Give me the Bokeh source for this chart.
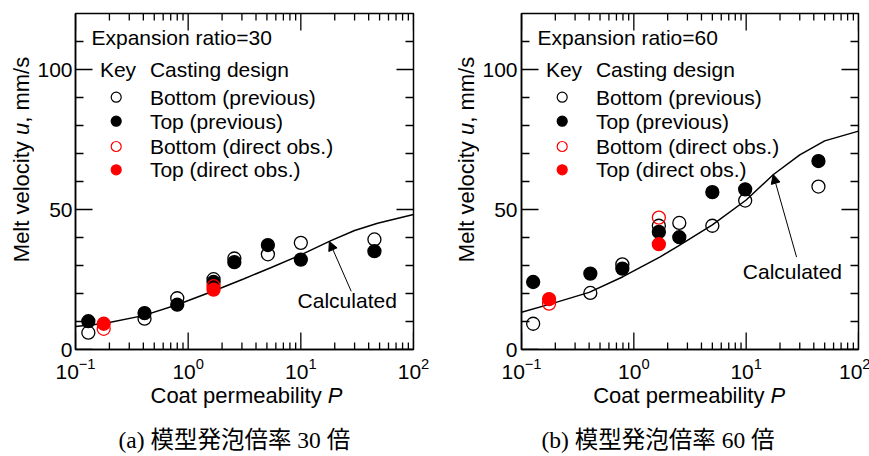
import numpy as np
from bokeh.plotting import figure
from bokeh.models import Range1d, FixedTicker, Label, Arrow, NormalHead
from bokeh.layouts import row, column
from bokeh.embed import file_html
from bokeh.resources import INLINE

# ---------------- data ----------------
x_ticks = [0.1, 1, 10, 100]
x_minor = [m * d for d in (0.1, 1, 10) for m in range(2, 10)]
y_ticks = [0, 50, 100]
y_minor = [10, 20, 30, 40, 60, 70, 80, 90, 110]

legend_labels = ["Bottom (previous)", "Top (previous)", "Bottom (direct obs.)", "Top (direct obs.)"]

# (a) expansion ratio 30
P_prev_a = [0.13, 0.41, 0.80, 1.68, 2.57, 5.1, 10.0, 45.0]
u_bottom_prev_a = [6.0, 11.0, 18.3, 25.1, 32.5, 34.0, 38.1, 39.3]
u_top_prev_a = [10.1, 13.0, 16.0, 24.1, 31.2, 37.3, 32.1, 35.1]
P_obs_a = [0.178, 1.68]
u_bottom_obs_a = [7.4, 22.6]
u_top_obs_a = [9.2, 21.4]
P_calc_a = [0.1, 0.18, 0.4, 0.8, 1.7, 3.1, 5.4, 10, 18.5, 30, 48, 100]
u_calc_a = [8.2, 9.3, 12.1, 16.0, 21.0, 25.2, 29.2, 33.8, 38.9, 42.5, 45.1, 48.2]

# (b) expansion ratio 60
P_prev_b = [0.127, 0.41, 0.79, 1.67, 2.54, 5.0, 9.8, 44.0]
u_bottom_prev_b = [9.2, 20.2, 30.4, 44.2, 45.2, 44.2, 53.2, 58.2]
u_top_prev_b = [24.1, 27.1, 28.9, 42.0, 40.1, 56.2, 57.2, 67.3]
P_obs_b = [0.176, 1.67]
u_bottom_obs_b = [16.4, 47.1]
u_top_obs_b = [18.0, 37.6]
P_calc_b = [0.1, 0.18, 0.4, 0.8, 1.7, 2.5, 5.0, 10, 17.5, 30, 50, 100]
u_calc_b = [13.3, 16.2, 20.4, 26.0, 33.0, 37.0, 44.5, 53.4, 62.5, 69.5, 74.5, 78.0]

FONT = "Liberation Sans"
CAP_FONT = "Liberation Serif, Noto Sans CJK JP"
FH = 336          # frame height (px)
TOP = 13          # frame top (px)
BOT = 31          # space under frame for tick labels
PH = TOP + FH + BOT
AX_FS = 22


def add_label(p, x, y, t, size="21px", style="normal", font=FONT, angle=0.0,
              align="left", units="screen"):
    p.add_layout(Label(x=x, y=y, x_units=units, y_units=units, text=t,
                       text_font=font, text_font_size=size, text_font_style=style,
                       text_align=align, text_baseline="middle", angle=angle,
                       text_color="black"))


def blank_fig(w, h):
    f = figure(frame_width=w, frame_height=h, min_border=0,
               x_range=Range1d(0, 1), y_range=Range1d(0, 1),
               x_axis_location=None, y_axis_location=None,
               output_backend="svg", toolbar_location=None)
    f.grid.visible = False
    f.outline_line_color = None
    return f


def ylabel_strip(w, xc):
    f = blank_fig(w, PH)
    y0 = PH - 261.7 + 13
    a = np.pi / 2
    fs = f"{AX_FS}px"
    add_label(f, xc, y0, "Melt velocity", size=fs, angle=a)
    add_label(f, xc, y0 + 5.779 * AX_FS, "u", size=fs, style="italic", angle=a)
    add_label(f, xc, y0 + 6.335 * AX_FS, ",", size=fs, angle=a)
    add_label(f, xc, y0 + 6.891 * AX_FS, "mm/s", size=fs, angle=a)
    return f


def make_panel(fw, mb_left, mb_right, ratio, y_standoff,
               P_prev, u_bot_prev, u_top_prev, P_obs, u_bot_obs, u_top_obs,
               P_calc, u_calc, calc_lbl, arrow_tail, arrow_head):
    p = figure(x_axis_type="log", x_range=Range1d(0.1, 100), y_range=Range1d(0, 120),
               frame_width=fw, frame_height=FH, min_border_left=mb_left,
               min_border_right=mb_right, min_border_top=TOP, min_border_bottom=BOT,
               output_backend="svg", toolbar_location=None)
    p.grid.visible = False
    p.outline_line_color = "black"
    p.outline_line_width = 1.5
    p.background_fill_color = None
    p.border_fill_color = "white"

    for ax, tk in ((p.xaxis[0], FixedTicker(ticks=x_ticks, minor_ticks=x_minor)),
                   (p.yaxis[0], FixedTicker(ticks=y_ticks, minor_ticks=y_minor))):
        ax.ticker = tk
        ax.major_tick_in = 0
        ax.major_tick_out = 0
        ax.minor_tick_in = 0
        ax.minor_tick_out = 0
        ax.axis_line_color = "black"
        ax.axis_line_width = 1.5
        ax.major_label_text_font = FONT
        ax.major_label_text_font_size = "21px"
        ax.major_label_text_color = "black"
    p.xaxis[0].major_label_standoff = 8
    p.yaxis[0].major_label_standoff = y_standoff

    ky = 120 / FH            # data units per px (y)
    kx = 3 / fw              # decades per px (x)

    # inward tick marks on all four sides: one line glyph, ticks separated by NaN
    maj, mnr_x, mnr_y = 17, 7, 8
    nan = float("nan")
    tx, ty = [], []
    for ticks, L in ((x_ticks, maj), (x_minor, mnr_x)):
        for t in ticks:
            tx += [t, t, nan, t, t, nan]
            ty += [0.0, L * ky, nan, 120.0, 120.0 - L * ky, nan]
    for ticks, L in ((y_ticks, maj), (y_minor, mnr_y)):
        for t in ticks:
            tx += [0.1, 0.1 * 10 ** (L * kx), nan, 100.0, 100.0 / 10 ** (L * kx), nan]
            ty += [t, t, nan, t, t, nan]
    p.line(np.array(tx), np.array(ty), line_color="black", line_width=1.3)

    # calculated curve
    p.line(P_calc, u_calc, line_color="black", line_width=1.5)

    # data points
    p.scatter(P_prev, u_bot_prev, marker="circle", size=13, fill_color=None,
              line_color="black", line_width=1.3)
    p.scatter(P_prev, u_top_prev, marker="circle", size=13, fill_color="black",
              line_color="black", line_width=1.3)
    p.scatter(P_obs, u_bot_obs, marker="circle", size=13, fill_color=None,
              line_color="red", line_width=1.3)
    p.scatter(P_obs, u_top_obs, marker="circle", size=13, fill_color="red",
              line_color="red", line_width=1.3)

    # in-plot key
    rows_y = [252.3, 228.3, 203, 179.7]
    mk_x = 10 ** (-1 + 40.7 * kx)
    fills = [None, "black", None, "red"]
    lines = ["black", "black", "red", "red"]
    for ry, t, fc, lc in zip(rows_y, legend_labels, fills, lines):
        p.scatter([mk_x], [ry * ky], marker="circle", size=10, fill_color=fc,
                  line_color=lc, line_width=1.2)
        add_label(p, 74.4, ry, t)
    add_label(p, 16, 312, f"Expansion ratio={ratio}")
    add_label(p, 24.4, 280, "Key")
    add_label(p, 74.4, 280, "Casting design")

    # arrow + label for calculated curve
    p.add_layout(Arrow(end=NormalHead(size=9, fill_color="black", line_color="black", line_width=1),
                       x_start=arrow_tail[0], y_start=arrow_tail[1],
                       x_end=arrow_head[0], y_end=arrow_head[1],
                       line_color="black", line_width=1))
    add_label(p, calc_lbl[0], calc_lbl[1], "Calculated", align="center", units="data")
    return p


# page layout (x positions in px)
W_YLA, W_YLB = 34, 28
pa = make_panel(338, 38, 38, 30, 3,
                P_prev_a, u_bottom_prev_a, u_top_prev_a, P_obs_a, u_bottom_obs_a, u_top_obs_a,
                P_calc_a, u_calc_a, (25.8, 17.5), (28.0, 20.8), (17.9, 38.6))
pb = make_panel(337, 39, 12, 60, 4,
                P_prev_b, u_bottom_prev_b, u_top_prev_b, P_obs_b, u_bottom_obs_b, u_top_obs_b,
                P_calc_b, u_calc_b, (25.8, 27.9), (28.1, 33.0), (17.4, 62.5))
yla = ylabel_strip(W_YLA, 20.5)
ylb = ylabel_strip(W_YLB, 15)

TOTAL_W = W_YLA + 38 + 338 + 38 + W_YLB + 39 + 337 + 12
BH = 76
bottom = blank_fig(TOTAL_W, BH)
fs = f"{AX_FS}px"
for x0 in (150, 592.7):
    add_label(bottom, x0, PH + BH - 394, "Coat permeability", size=fs)
    add_label(bottom, x0 + 8.058 * AX_FS, PH + BH - 394, "P", size=fs, style="italic")
add_label(bottom, 118, PH + BH - 438, "(a) 模型発泡倍率 30 倍", size="23.5px", font=CAP_FONT)
add_label(bottom, 541, PH + BH - 438, "(b) 模型発泡倍率 60 倍", size="23.5px", font=CAP_FONT)

layout = column(row(yla, pa, ylb, pb), bottom)
open("out.html", "w").write(file_html(layout, INLINE))
